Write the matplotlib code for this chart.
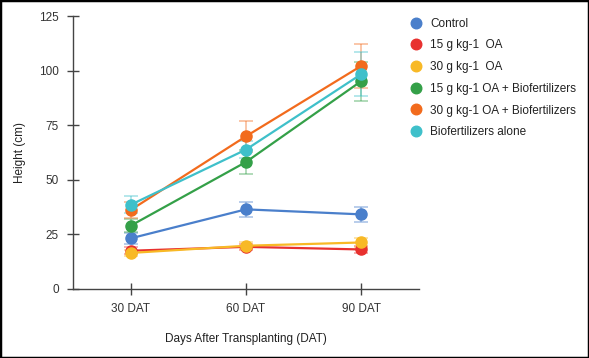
import matplotlib.pyplot as plt
from matplotlib.patches import Rectangle

# x categories
days = ["30 DAT", "60 DAT", "90 DAT"]

# plant height (cm) per treatment
control = [23.2, 36.5, 34.2]
oa15 = [17.5, 19.3, 18.1]
oa30 = [16.5, 19.8, 21.3]
oa15_bio = [29.0, 58.2, 95.3]
oa30_bio = [36.2, 70.0, 102.3]
bio_alone = [38.6, 63.9, 98.5]

# error bars (sd)
control_err = [2.5, 3.5, 3.5]
oa15_err = [1.5, 1.5, 1.5]
oa30_err = [1.5, 1.5, 2.0]
oa15_bio_err = [3.0, 5.5, 9.0]
oa30_bio_err = [3.7, 7.0, 10.0]
bio_alone_err = [4.0, 4.0, 10.0]

labels = ["Control", "15 g kg-1  OA", "30 g kg-1  OA",
          "15 g kg-1 OA + Biofertilizers", "30 g kg-1 OA + Biofertilizers",
          "Biofertilizers alone"]
colors = ["#4a7fcb", "#e8312f", "#f8b926", "#34a048", "#f26b1d", "#3fc0ca"]

series = [control, oa15, oa30, oa15_bio, oa30_bio, bio_alone]
errors = [control_err, oa15_err, oa30_err, oa15_bio_err, oa30_bio_err, bio_alone_err]

plt.rcParams["font.family"] = ["Liberation Sans", "DejaVu Sans"]

fig = plt.figure(figsize=(5.89, 3.58), dpi=100)
ax = fig.add_axes([0.124, 0.193, 0.587, 0.761])

x = range(len(days))
for vals, err, col, lab in zip(series, errors, colors, labels):
    ax.errorbar(x, vals, yerr=err, fmt="none", ecolor=col, alpha=0.45,
                elinewidth=1.2, capsize=5, capthick=1.2, zorder=2)
    ax.plot(x, vals, color=col, lw=1.6, marker="o", markersize=8,
            label=lab, zorder=3)

ax.set_xlim(-0.5, 2.5)
ax.set_ylim(0, 125)
ax.set_yticks([0, 25, 50, 75, 100, 125])
ax.set_xticks(list(x))
ax.set_xticklabels(days)

for side in ["top", "right"]:
    ax.spines[side].set_visible(False)
for side in ["left", "bottom"]:
    ax.spines[side].set_color("#444444")
    ax.spines[side].set_linewidth(1.0)

ax.tick_params(direction="inout", length=8.6, width=1.0, color="#444444",
               labelsize=8.5, labelcolor="#333333", pad=6)

ax.set_ylabel("Height (cm)", fontsize=8.5, color="#222222", labelpad=9)
ax.set_xlabel("Days After Transplanting (DAT)", fontsize=8.5, color="#222222", labelpad=13)

leg = fig.legend(loc="upper left", bbox_to_anchor=(0.68, 0.98), frameon=False,
                 fontsize=8.5, handlelength=0.8, handletextpad=0.8,
                 labelspacing=0.82, markerscale=0.95)
for h in leg.legend_handles:
    h.set_linestyle("none")
for t in leg.get_texts():
    t.set_color("#222222")

fig.patches.append(Rectangle((0, 0), 1, 1, transform=fig.transFigure,
                             fill=False, edgecolor="black", linewidth=2.5))

fig.savefig("out.png", dpi=100)
